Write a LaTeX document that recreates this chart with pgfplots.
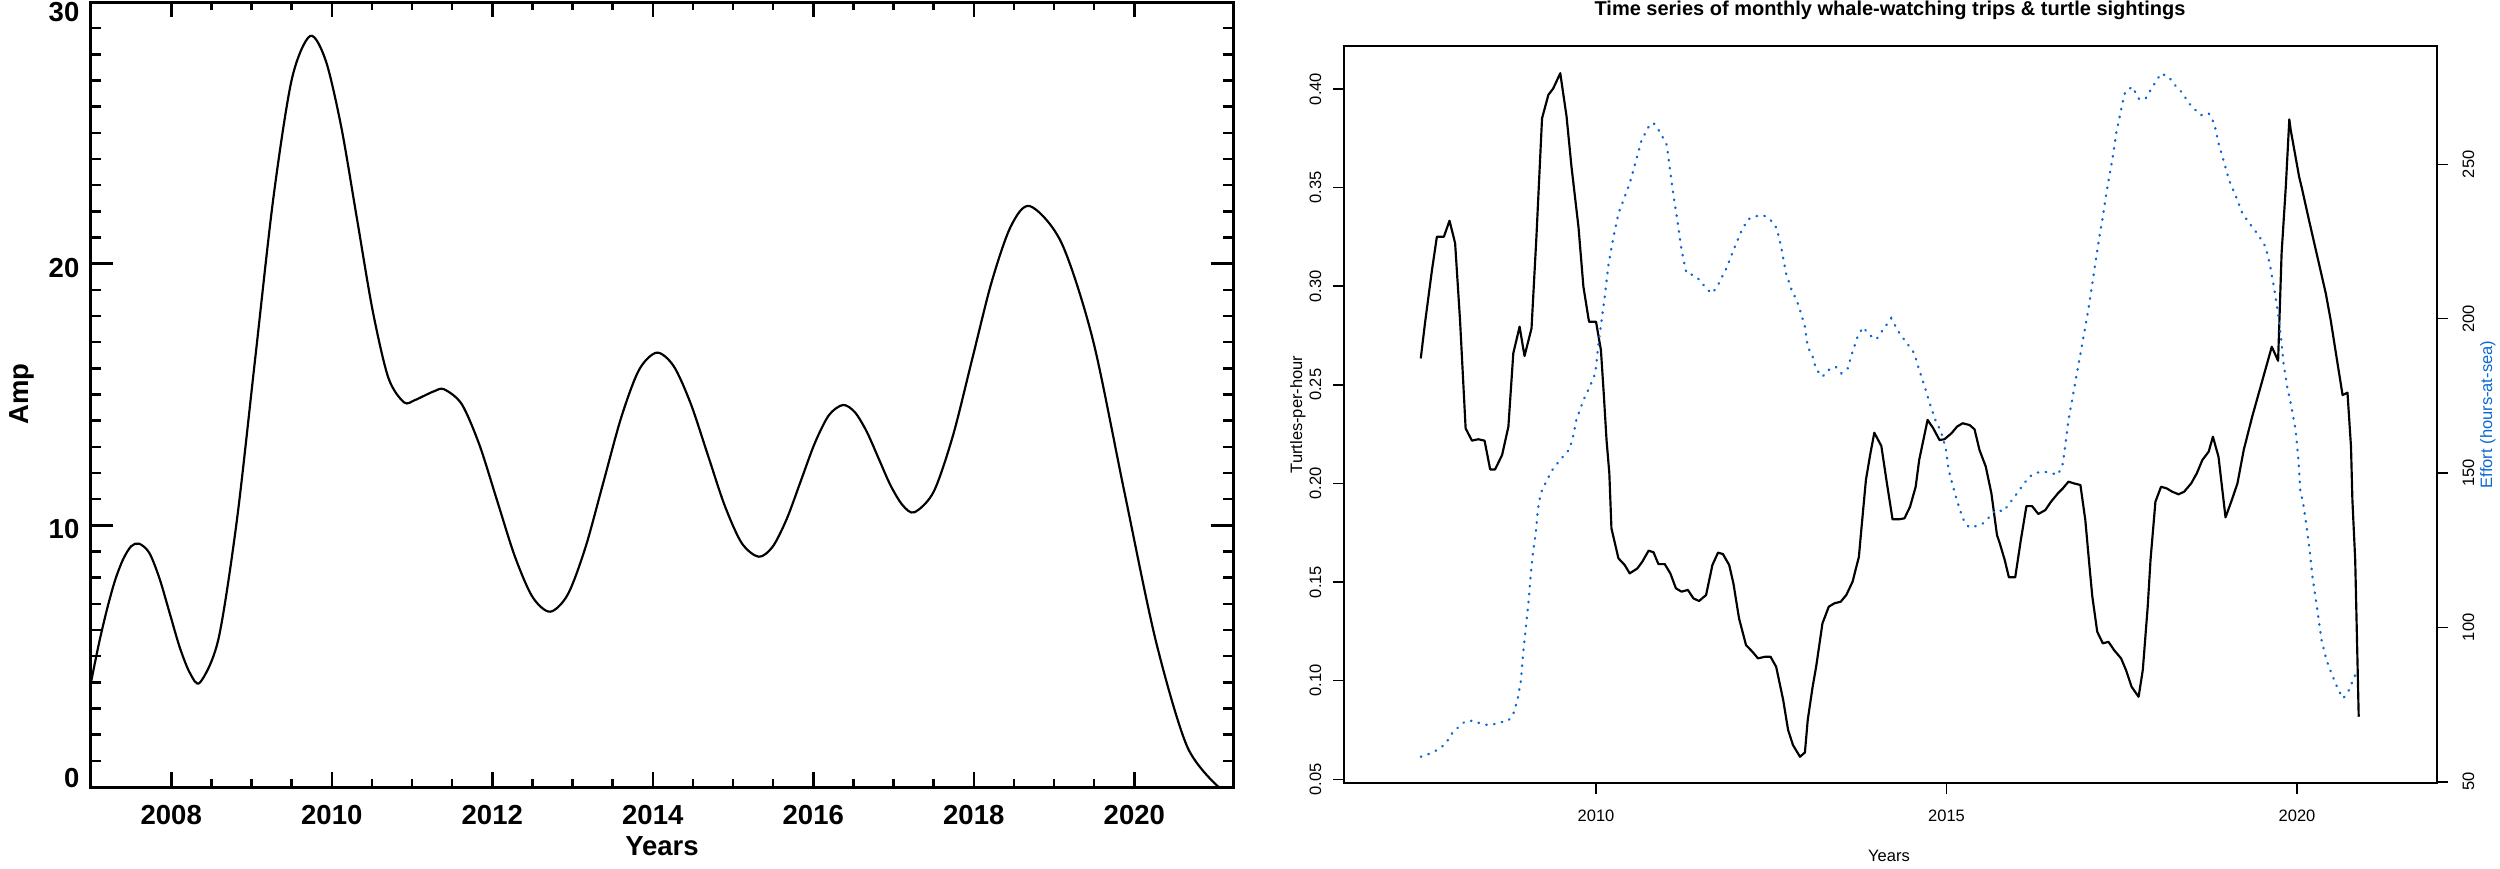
\documentclass[border=0pt]{standalone}
\usepackage{fontspec}
\setmainfont{Liberation Sans}
\usepackage{pgfplots}
\pgfplotsset{compat=1.18}
\definecolor{effortblue}{RGB}{10,104,210}

% 1 px of the reference = 0.3pt
\pgfplotstableread{
yr v
2007.00 4.00
2007.10 5.50
2007.20 6.80
2007.30 7.90
2007.40 8.70
2007.50 9.20
2007.60 9.30
2007.727 8.945
2007.853 7.975
2007.98 6.65
2008.107 5.325
2008.233 4.355
2008.36 4.00
2008.588 5.655
2008.817 10.175
2009.045 16.35
2009.273 22.525
2009.502 27.045
2009.73 28.70
2009.925 27.76
2010.12 25.20
2010.315 21.70
2010.51 18.20
2010.705 15.64
2010.90 14.70
2011.03 14.78
2011.15 14.95
2011.28 15.13
2011.40 15.20
2011.62 14.63
2011.84 13.075
2012.06 10.95
2012.28 8.825
2012.50 7.27
2012.72 6.70
2012.942 7.363
2013.163 9.175
2013.385 11.65
2013.607 14.125
2013.828 15.937
2014.05 16.60
2014.262 16.077
2014.473 14.65
2014.685 12.70
2014.897 10.75
2015.108 9.323
2015.32 8.80
2015.495 9.189
2015.67 10.25
2015.845 11.70
2016.02 13.15
2016.195 14.211
2016.37 14.60
2016.518 14.325
2016.667 13.575
2016.815 12.55
2016.963 11.525
2017.112 10.775
2017.26 10.50
2017.50 11.284
2017.74 13.425
2017.98 16.35
2018.22 19.275
2018.46 21.416
2018.70 22.20
2019.092 20.80
2019.483 17.10
2019.875 11.30
2020.267 5.60
2020.658 1.55
2021.05 0.00
}\amp

\pgfplotstableread{
yr v
2007.50 0.2634
2007.56 0.2812
2007.66 0.3082
2007.73 0.3251
2007.83 0.3251
2007.91 0.3332
2007.99 0.3218
2008.06 0.2829
2008.14 0.2279
2008.23 0.2217
2008.32 0.2224
2008.41 0.2217
2008.49 0.2071
2008.56 0.2071
2008.66 0.2144
2008.75 0.2288
2008.82 0.2660
2008.91 0.2795
2008.98 0.2646
2009.08 0.2786
2009.15 0.3251
2009.23 0.3851
2009.32 0.3970
2009.39 0.4003
2009.49 0.4080
2009.58 0.3860
2009.65 0.3606
2009.75 0.3300
2009.82 0.2998
2009.90 0.2820
2010.00 0.2820
2010.07 0.2676
2010.11 0.2457
2010.15 0.2220
2010.19 0.2051
2010.22 0.1772
2010.32 0.1620
2010.41 0.1586
2010.48 0.1544
2010.59 0.1569
2010.66 0.1603
2010.75 0.1659
2010.82 0.1651
2010.89 0.1591
2010.98 0.1591
2011.06 0.1544
2011.14 0.1468
2011.22 0.1451
2011.31 0.1460
2011.39 0.1417
2011.47 0.1404
2011.57 0.1434
2011.66 0.1586
2011.74 0.1649
2011.81 0.1642
2011.90 0.1586
2011.96 0.1493
2012.04 0.1316
2012.14 0.1180
2012.23 0.1147
2012.31 0.1113
2012.41 0.1121
2012.49 0.1121
2012.57 0.1070
2012.67 0.0902
2012.74 0.0750
2012.81 0.0673
2012.91 0.0614
2012.98 0.0636
2013.02 0.0800
2013.09 0.0969
2013.14 0.1070
2013.23 0.1290
2013.32 0.1375
2013.40 0.1392
2013.49 0.1400
2013.57 0.1434
2013.66 0.1502
2013.75 0.1628
2013.78 0.1747
2013.85 0.2017
2013.91 0.2144
2013.97 0.2257
2014.07 0.2190
2014.15 0.2000
2014.23 0.1818
2014.32 0.1818
2014.40 0.1823
2014.48 0.1882
2014.56 0.1983
2014.61 0.2119
2014.73 0.2322
2014.81 0.2280
2014.90 0.2220
2014.97 0.2224
2015.07 0.2254
2015.15 0.2288
2015.23 0.2305
2015.33 0.2296
2015.40 0.2274
2015.47 0.2170
2015.56 0.2085
2015.64 0.1950
2015.72 0.1738
2015.76 0.1696
2015.83 0.1612
2015.89 0.1524
2015.98 0.1524
2016.06 0.1713
2016.14 0.1885
2016.22 0.1885
2016.31 0.1845
2016.41 0.1865
2016.49 0.1907
2016.59 0.1950
2016.66 0.1975
2016.74 0.2009
2016.82 0.2000
2016.91 0.1992
2016.98 0.1814
2017.04 0.1577
2017.08 0.1426
2017.15 0.1248
2017.23 0.1189
2017.31 0.1197
2017.39 0.1155
2017.49 0.1113
2017.56 0.1054
2017.64 0.0969
2017.74 0.0918
2017.80 0.1054
2017.87 0.1375
2017.91 0.1612
2017.98 0.1907
2018.06 0.1983
2018.14 0.1975
2018.22 0.1958
2018.31 0.1945
2018.39 0.1958
2018.49 0.2000
2018.57 0.2051
2018.65 0.2119
2018.74 0.2161
2018.80 0.2237
2018.88 0.2135
2018.98 0.1828
2019.07 0.1916
2019.15 0.2000
2019.24 0.2170
2019.36 0.2338
2019.48 0.2490
2019.64 0.2693
2019.73 0.2622
2019.78 0.3167
2019.84 0.3505
2019.89 0.3846
2019.91 0.3792
2020.03 0.3555
2020.07 0.3496
2020.17 0.3336
2020.29 0.3150
2020.41 0.2964
2020.48 0.2829
2020.57 0.2626
2020.65 0.2448
2020.72 0.2460
2020.77 0.2186
2020.79 0.1916
2020.83 0.1612
2020.86 0.1138
2020.88 0.0817
}\turtles

\pgfplotstableread{
yr e
2007.50 58.1
2007.64 59.2
2007.75 60.5
2007.85 62.2
2007.94 65.5
2008.04 67.8
2008.13 69.5
2008.25 69.8
2008.37 68.7
2008.49 68.3
2008.61 69.1
2008.75 69.8
2008.82 72.0
2008.88 76.5
2008.93 83.0
2008.96 91.6
2009.00 100.2
2009.04 108.9
2009.07 117.5
2009.10 124.0
2009.14 130.5
2009.17 138.0
2009.21 143.4
2009.30 147.7
2009.39 151.5
2009.51 154.8
2009.61 157.4
2009.66 160.5
2009.72 167.2
2009.82 173.6
2009.91 177.9
2009.99 182.3
2010.03 190.9
2010.08 199.5
2010.13 208.2
2010.18 217.9
2010.25 226.5
2010.32 234.1
2010.41 239.5
2010.48 243.8
2010.56 250.3
2010.65 257.8
2010.75 262.1
2010.82 263.4
2010.91 260.5
2011.01 256.2
2011.05 249.2
2011.10 240.6
2011.16 231.9
2011.22 222.2
2011.29 214.7
2011.39 214.1
2011.48 212.5
2011.58 209.5
2011.66 208.2
2011.74 210.9
2011.86 216.3
2011.96 222.2
2012.08 228.7
2012.17 232.2
2012.29 233.2
2012.39 233.5
2012.49 231.9
2012.58 229.2
2012.64 223.3
2012.71 214.7
2012.79 209.3
2012.86 206.0
2012.91 202.8
2012.98 197.4
2013.02 190.9
2013.09 187.7
2013.14 183.6
2013.23 181.2
2013.32 183.4
2013.42 184.4
2013.50 182.3
2013.59 183.9
2013.66 189.3
2013.74 194.7
2013.81 197.2
2013.90 194.7
2014.00 193.3
2014.09 196.3
2014.21 200.1
2014.33 195.2
2014.42 192.5
2014.54 188.8
2014.61 183.4
2014.69 177.9
2014.76 172.6
2014.84 167.2
2014.92 163.4
2014.99 157.9
2015.03 151.0
2015.08 146.7
2015.14 141.8
2015.23 135.3
2015.32 132.4
2015.42 132.8
2015.52 133.7
2015.61 135.7
2015.71 138.2
2015.81 137.5
2015.90 140.2
2015.99 142.9
2016.09 146.1
2016.18 148.8
2016.28 150.1
2016.40 150.4
2016.51 149.9
2016.59 149.4
2016.66 153.1
2016.70 160.0
2016.74 167.2
2016.80 174.7
2016.86 182.3
2016.92 189.8
2016.98 197.4
2017.03 203.9
2017.08 211.4
2017.13 219.0
2017.18 226.5
2017.23 233.0
2017.28 240.6
2017.33 247.1
2017.38 253.5
2017.42 260.0
2017.47 265.4
2017.52 270.8
2017.55 273.5
2017.65 275.1
2017.75 271.0
2017.84 271.3
2017.94 275.1
2018.06 279.4
2018.17 278.3
2018.26 275.6
2018.38 272.7
2018.44 270.2
2018.54 267.8
2018.63 265.9
2018.74 266.5
2018.82 263.2
2018.88 256.8
2018.95 251.4
2019.03 244.9
2019.13 239.5
2019.22 234.1
2019.34 230.3
2019.46 226.7
2019.55 223.3
2019.61 217.9
2019.67 210.3
2019.73 201.7
2019.77 194.1
2019.81 185.0
2019.86 177.9
2019.91 172.6
2019.98 164.0
2020.02 154.2
2020.05 143.4
2020.08 141.3
2020.13 133.7
2020.18 125.1
2020.22 116.4
2020.29 105.6
2020.35 95.9
2020.42 89.4
2020.50 84.6
2020.59 79.7
2020.66 77.0
2020.74 79.7
2020.83 84.6
}\effort

\begin{document}
\begin{tikzpicture}

% ---------- left panel: curve + y ticks ----------
\begin{axis}[
  at={(27.3pt,24.3pt)}, anchor=south west,
  scale only axis, width=342.6pt, height=235.5pt,
  xmin=2007, xmax=2021.23, ymin=0, ymax=30,
  axis line style={line width=0.9pt},
  tick pos=both, ticklabel pos=left,
  xtick=\empty,
  ytick={0,10,20,30}, yticklabels={,10,20,},
  minor y tick num=9,
  major tick length=6.6pt, minor tick length=3pt,
  tick style={black, line width=0.75pt},
  yticklabel style={font=\bfseries\fontsize{8.25}{9}\selectfont, anchor=east, inner sep=0pt, xshift=-3.3pt, yshift=-1.2pt},
]
\addplot[black, line width=0.65pt, smooth] table[x=yr, y=v] {\amp};
\end{axis}

% ---------- left panel: x ticks ----------
\begin{axis}[
  at={(27.3pt,24.3pt)}, anchor=south west,
  scale only axis, width=342.6pt, height=235.5pt,
  xmin=2007, xmax=2021.23, ymin=0, ymax=30,
  axis line style={line width=0.9pt},
  tick pos=both, ticklabel pos=left,
  ytick=\empty,
  xtick={2008,2010,2012,2014,2016,2018,2020},
  xticklabels={2008,2010,2012,2014,2016,2018,2020},
  minor x tick num=3,
  major tick length=4.5pt, minor tick length=2.4pt,
  tick style={black, line width=0.75pt},
  xticklabel style={font=\bfseries\fontsize{8.25}{9}\selectfont, anchor=north, inner sep=0pt},
  xticklabel shift=5.4pt,
]
\end{axis}

\node[font=\bfseries\fontsize{8.25}{9}\selectfont, anchor=east, inner sep=0pt] at (24pt,256.65pt) {30};
\node[font=\bfseries\fontsize{8.25}{9}\selectfont, anchor=east, inner sep=0pt] at (24pt,27pt) {0};
\node[font=\bfseries\fontsize{8.25}{9}\selectfont, rotate=90, anchor=base, inner sep=0pt] at (8.7pt,142.2pt) {Amp};
\node[font=\bfseries\fontsize{8.25}{9}\selectfont, anchor=base, inner sep=0pt] at (198.6pt,3.9pt) {Years};

% ---------- right panel: turtles per hour ----------
\begin{axis}[
  at={(403.2pt,25.5pt)}, anchor=south west,
  scale only axis, width=327.9pt, height=221.1pt,
  xmin=2006.405, xmax=2021.997, ymin=0.0481, ymax=0.4218,
  axis line style={line width=0.45pt},
  tick align=outside, tick pos=left,
  major tick length=3.3pt,
  tick style={black, line width=0.45pt},
  xtick={2010,2015,2020}, xticklabels={2010,2015,2020},
  ytick={0.05,0.10,0.15,0.20,0.25,0.30,0.35,0.40},
  yticklabels={0.05,0.10,0.15,0.20,0.25,0.30,0.35,0.40},
  ticklabel style={font=\fontsize{4.95}{6}\selectfont, inner sep=0pt},
  yticklabel style={rotate=90, anchor=south},
  xticklabel style={anchor=north},
  yticklabel shift=3.3pt, xticklabel shift=4.5pt,
]
\addplot[black, line width=0.65pt, line join=round] table[x=yr, y=v] {\turtles};
\end{axis}

% ---------- right panel: effort ----------
\begin{axis}[
  at={(403.2pt,25.5pt)}, anchor=south west,
  scale only axis, width=327.9pt, height=221.1pt,
  xmin=2006.405, xmax=2021.997, ymin=49.6, ymax=288.3,
  hide x axis, axis y line*=right,
  axis line style={line width=0.45pt},
  tick align=outside,
  major tick length=3.3pt,
  tick style={black, line width=0.45pt},
  ytick={50,100,150,200,250}, yticklabels={50,100,150,200,250},
  ticklabel style={font=\fontsize{4.95}{6}\selectfont, inner sep=0pt},
  yticklabel style={rotate=90, anchor=north},
  yticklabel shift=4.2pt,
]
\addplot[effortblue, line width=0.7pt, line cap=round, dash pattern=on 0.2pt off 2.2pt] table[x=yr, y=e] {\effort};
\end{axis}

\node[font=\bfseries\fontsize{6}{7}\selectfont, anchor=base, inner sep=0pt] at (567pt,255.6pt) {Time series of monthly whale-watching trips \& turtle sightings};
\node[font=\fontsize{4.95}{6}\selectfont, rotate=90, anchor=base, inner sep=0pt] at (390.6pt,136.05pt) {Turtles-per-hour};
\node[font=\fontsize{4.95}{6}\selectfont, rotate=90, anchor=base, inner sep=0pt, text=effortblue] at (747.6pt,136.05pt) {Effort (hours-at-sea)};
\node[font=\fontsize{4.95}{6}\selectfont, anchor=base, inner sep=0pt] at (566.7pt,2.1pt) {Years};

\pgfresetboundingbox
\path[use as bounding box] (0,0) rectangle (750pt,260.4pt);
\end{tikzpicture}
\end{document}
